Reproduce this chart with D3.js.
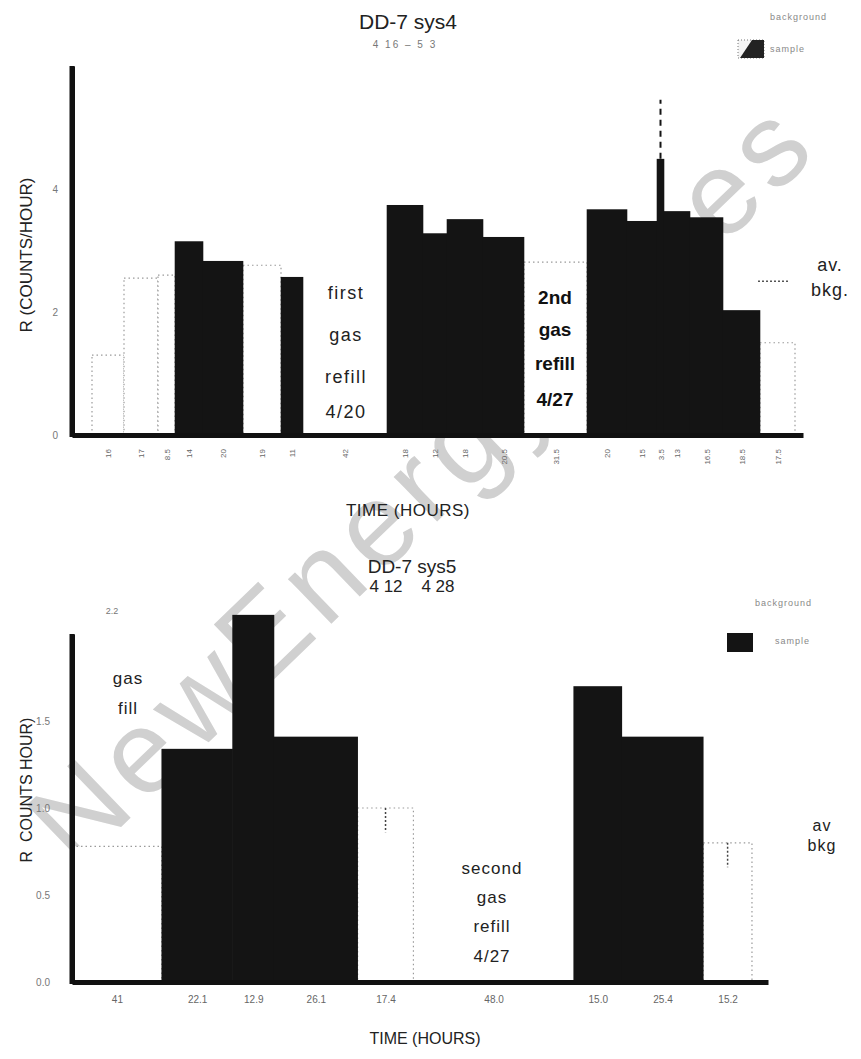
<!DOCTYPE html>
<html lang="en">
<head>
<meta charset="UTF-8">
<title>DD-7 sys4 / sys5</title>
<script src="https://d3js.org/d3.v7.min.js"></script>
<style>
  body { margin: 0; background: #fff; }
  svg text { font-family: "Liberation Sans", Arial, sans-serif; }
</style>
</head>
<body>
<div id="main"></div>
<script>
// ---- DD-7 sys4 (4/16 - 5/3), segments left to right ----
var sys4Kind  = ["gap","bkg","bkg","bkg","sample","sample","bkg","sample","gap","sample","sample","sample","sample","bkg","sample","sample","sample","sample","sample","sample","bkg","gap"];
var sys4Rate  = [0, 1.3, 2.55, 2.6, 3.15, 2.83, 2.76, 2.57, 0, 3.74, 3.28, 3.51, 3.22, 2.81, 3.67, 3.48, 4.49, 3.64, 3.54, 2.03, 1.5, 0];
var sys4Hours = [10, 16, 17, 8.5, 14, 20, 19, 11, 42, 18, 12, 18, 20.5, 31.5, 20, 15, 3.5, 13, 16.5, 18.5, 17.5, 4];
var sys4Ticks = ["", "16", "17", "8.5", "14", "20", "19", "11", "42", "18", "12", "18", "20.5", "31.5", "20", "15", "3.5", "13", "16.5", "18.5", "17.5", ""];
var sys4ErrTop = [null,null,null,null,null,null,null,null,null,null,null,null,null,null,null,null,5.45,null,null,null,null,null];
var sys4YTicks = [0, 2, 4];
var sys4AvBkg = 2.5;

// ---- DD-7 sys5 (4/12 - 4/28) ----
var sys5Kind  = ["bkg","sample","sample","sample","bkg","gap","sample","sample","bkg","gap"];
var sys5Rate  = [0.78, 1.34, 2.11, 1.41, 1.0, 0, 1.70, 1.41, 0.80, 0];
var sys5Hours = [28, 22.1, 12.9, 26.1, 17.4, 50, 15.0, 25.4, 15.2, 5];
var sys5Ticks = ["41", "22.1", "12.9", "26.1", "17.4", "48.0", "15.0", "25.4", "15.2", ""];
var sys5ErrLow = [null, null, null, null, 0.86, null, null, null, 0.66, null];
var sys5YTicks = [0, 0.5, 1.0, 1.5];

var W = 861, H = 1059;
var svg = d3.select("#main").append("svg")
  .attr("width", W).attr("height", H)
  .style("background", "#fff");

// watermark (behind the chart)
svg.append("text")
  .attr("transform", "translate(425,490) rotate(-44)")
  .attr("text-anchor", "middle")
  .attr("dominant-baseline", "middle")
  .attr("font-size", 118)
  .attr("textLength", 1030)
  .attr("fill", "#d0d0d0")
  .text("NewEnergyTimes");

function drawPanel(opt) {
  var g = svg.append("g");
  var total = d3.sum(opt.hours);
  var x = d3.scaleLinear().domain([0, total]).range([opt.x0, opt.x1]);
  var y = d3.scaleLinear().domain(opt.yDomain).range([opt.yBase, opt.yTop]);

  var segs = opt.hours.map(function(h, i) {
    var start = d3.sum(opt.hours.slice(0, i));
    return { i: i, start: start, end: start + h, kind: opt.kind[i], rate: opt.rate[i], label: opt.ticks[i] };
  });

  // background runs: dotted outline only
  var bk = segs.filter(function(d) { return d.kind === "bkg"; });
  g.selectAll("rect.bkg").data(bk).enter().append("rect")
    .attr("class", "bkg")
    .attr("x", function(d) { return x(d.start); })
    .attr("width", function(d) { return x(d.end) - x(d.start); })
    .attr("y", function(d) { return y(d.rate); })
    .attr("height", function(d) { return opt.yBase - y(d.rate); })
    .attr("fill", "#fff")
    .attr("stroke", "#9a9a9a")
    .attr("stroke-width", 1.2)
    .attr("stroke-dasharray", "1.5,3");

  // sample runs: solid black
  var sm = segs.filter(function(d) { return d.kind === "sample"; });
  g.selectAll("rect.sample").data(sm).enter().append("rect")
    .attr("class", "sample")
    .attr("x", function(d) { return x(d.start) - 0.3; })
    .attr("width", function(d) { return x(d.end) - x(d.start) + 0.6; })
    .attr("y", function(d) { return y(d.rate); })
    .attr("height", function(d) { return opt.yBase - y(d.rate); })
    .attr("fill", "#141414");

  // error marks
  if (opt.errTop) {
    segs.forEach(function(d) {
      var e = opt.errTop[d.i];
      if (e == null) return;
      var cx = x((d.start + d.end) / 2);
      g.append("line").attr("x1", cx).attr("x2", cx)
        .attr("y1", y(d.rate)).attr("y2", y(e))
        .attr("stroke", "#141414").attr("stroke-width", 2)
        .attr("stroke-dasharray", "6,5");
    });
  }
  if (opt.errLow) {
    segs.forEach(function(d) {
      var e = opt.errLow[d.i];
      if (e == null) return;
      var cx = x((d.start + d.end) / 2);
      g.append("line").attr("x1", cx).attr("x2", cx)
        .attr("y1", y(d.rate)).attr("y2", y(e))
        .attr("stroke", "#444").attr("stroke-width", 1.5)
        .attr("stroke-dasharray", "2,2");
    });
  }

  // axes
  var yAxis = d3.axisLeft(y).tickValues(opt.yTicks).tickSize(0).tickPadding(opt.yPad)
    .tickFormat(opt.yFmt);
  var ya = g.append("g").attr("transform", "translate(" + opt.x0 + ",0)").call(yAxis);
  ya.select(".domain").attr("stroke", "#111").attr("stroke-width", 5);
  ya.selectAll("text").attr("font-size", 10).attr("fill", "#777");

  var mids = segs.filter(function(d) { return d.label !== ""; })
    .map(function(d) { return (d.start + d.end) / 2; });
  var labelAt = {};
  segs.forEach(function(d) { labelAt[(d.start + d.end) / 2] = d.label; });
  var xAxis = d3.axisBottom(x).tickValues(mids).tickSize(0).tickPadding(0)
    .tickFormat(function(v) { return labelAt[v]; });
  var xa = g.append("g").attr("transform", "translate(0," + opt.yBase + ")").call(xAxis);
  xa.select(".domain").attr("stroke", "#111").attr("stroke-width", 5);
  if (opt.rotateTicks) {
    xa.selectAll("text")
      .attr("transform", "translate(0,14) rotate(-90)")
      .attr("text-anchor", "end").attr("dy", "0.35em").attr("y", 0)
      .attr("font-size", 8).attr("fill", "#666");
  } else {
    xa.selectAll("text").attr("y", 14).attr("font-size", 10).attr("fill", "#666");
  }
  g.append("line")
    .attr("x1", opt.x0).attr("x2", opt.x0)
    .attr("y1", opt.yBase + 2).attr("y2", y(opt.yDomain[1]))
    .attr("stroke", "#111").attr("stroke-width", 5);

  return { x: x, y: y, g: g };
}

// ---------- top panel ----------
var p1 = drawPanel({
  kind: sys4Kind, rate: sys4Rate, hours: sys4Hours, ticks: sys4Ticks, errTop: sys4ErrTop,
  x0: 72, x1: 803, yBase: 435, yTop: 66, yDomain: [0, 6], yTicks: sys4YTicks, yPad: 14,
  yFmt: d3.format("d"), rotateTicks: true
});

// av. bkg marker
p1.g.append("line").attr("x1", 758).attr("x2", 788)
  .attr("y1", p1.y(sys4AvBkg)).attr("y2", p1.y(sys4AvBkg))
  .attr("stroke", "#555").attr("stroke-width", 1.5).attr("stroke-dasharray", "2,2");

svg.append("text").attr("x", 408).attr("y", 29).attr("text-anchor", "middle")
  .attr("font-size", 21).attr("fill", "#222").text("DD-7 sys4");
svg.append("text").attr("x", 405).attr("y", 48).attr("text-anchor", "middle")
  .attr("font-size", 10).attr("fill", "#777").attr("letter-spacing", 2).text("4 16 – 5 3");

// legend top
svg.append("text").attr("x", 770).attr("y", 20).attr("font-size", 9)
  .attr("fill", "#888").attr("letter-spacing", 1).text("background");
svg.append("rect").attr("x", 738).attr("y", 40).attr("width", 26).attr("height", 18)
  .attr("fill", "#f4f4f4").attr("stroke", "#777").attr("stroke-dasharray", "1,2");
svg.append("path").attr("d", "M752,40 L764,40 L764,58 L740,58 Z").attr("fill", "#222");
svg.append("text").attr("x", 770).attr("y", 52).attr("font-size", 9)
  .attr("fill", "#888").attr("letter-spacing", 1).text("sample");

// annotations top
[["first", 299], ["gas", 341], ["refill", 383], ["4/20", 418]].forEach(function(t) {
  svg.append("text").attr("x", 346).attr("y", t[1]).attr("text-anchor", "middle")
    .attr("font-size", 18).attr("fill", "#222").attr("letter-spacing", 1.5).text(t[0]);
});
[["2nd", 304], ["gas", 336], ["refill", 370], ["4/27", 406]].forEach(function(t) {
  svg.append("text").attr("x", 555).attr("y", t[1]).attr("text-anchor", "middle")
    .attr("font-size", 19).attr("font-weight", "bold").attr("fill", "#111").text(t[0]);
});
[["av.", 271], ["bkg.", 296]].forEach(function(t) {
  svg.append("text").attr("x", 830).attr("y", t[1]).attr("text-anchor", "middle")
    .attr("font-size", 18).attr("fill", "#222").attr("letter-spacing", 1).text(t[0]);
});

svg.append("text").attr("transform", "translate(32,255) rotate(-90)")
  .attr("text-anchor", "middle").attr("font-size", 17).attr("fill", "#222")
  .text("R (COUNTS/HOUR)");
svg.append("text").attr("x", 408).attr("y", 516).attr("text-anchor", "middle")
  .attr("font-size", 17).attr("fill", "#222").attr("letter-spacing", 0.5).text("TIME (HOURS)");

// ---------- bottom panel ----------
var p2 = drawPanel({
  kind: sys5Kind, rate: sys5Rate, hours: sys5Hours, ticks: sys5Ticks, errLow: sys5ErrLow,
  x0: 72, x1: 768, yBase: 982, yTop: 634, yDomain: [0, 2], yTicks: sys5YTicks, yPad: 22,
  yFmt: d3.format(".1f"), rotateTicks: false
});

svg.append("text").attr("x", 412).attr("y", 573).attr("text-anchor", "middle")
  .attr("font-size", 19).attr("fill", "#222").text("DD-7 sys5");
svg.append("text").attr("x", 412).attr("y", 592).attr("text-anchor", "middle")
  .attr("font-size", 17).attr("fill", "#222").attr("xml:space", "preserve").text("4 12    4 28");
svg.append("text").attr("x", 112).attr("y", 614).attr("text-anchor", "middle")
  .attr("font-size", 9).attr("fill", "#777").text("2.2");

// legend bottom
svg.append("text").attr("x", 755).attr("y", 606).attr("font-size", 9)
  .attr("fill", "#888").attr("letter-spacing", 1).text("background");
svg.append("rect").attr("x", 727).attr("y", 633).attr("width", 26).attr("height", 19)
  .attr("fill", "#141414");
svg.append("text").attr("x", 775).attr("y", 644).attr("font-size", 9)
  .attr("fill", "#888").attr("letter-spacing", 1).text("sample");

[["gas", 684], ["fill", 714]].forEach(function(t) {
  svg.append("text").attr("x", 128).attr("y", t[1]).attr("text-anchor", "middle")
    .attr("font-size", 17).attr("fill", "#222").attr("letter-spacing", 1).text(t[0]);
});
[["second", 874], ["gas", 903], ["refill", 932], ["4/27", 962]].forEach(function(t) {
  svg.append("text").attr("x", 492).attr("y", t[1]).attr("text-anchor", "middle")
    .attr("font-size", 17).attr("fill", "#222").attr("letter-spacing", 1).text(t[0]);
});
[["av", 831], ["bkg", 851]].forEach(function(t) {
  svg.append("text").attr("x", 822).attr("y", t[1]).attr("text-anchor", "middle")
    .attr("font-size", 16).attr("fill", "#222").attr("letter-spacing", 1).text(t[0]);
});

svg.append("text").attr("transform", "translate(32,790) rotate(-90)")
  .attr("text-anchor", "middle").attr("font-size", 16).attr("fill", "#222")
  .attr("xml:space", "preserve").text("R  COUNTS HOUR)");
svg.append("text").attr("x", 425).attr("y", 1044).attr("text-anchor", "middle")
  .attr("font-size", 16).attr("fill", "#222").text("TIME (HOURS)");
</script>
</body>
</html>
